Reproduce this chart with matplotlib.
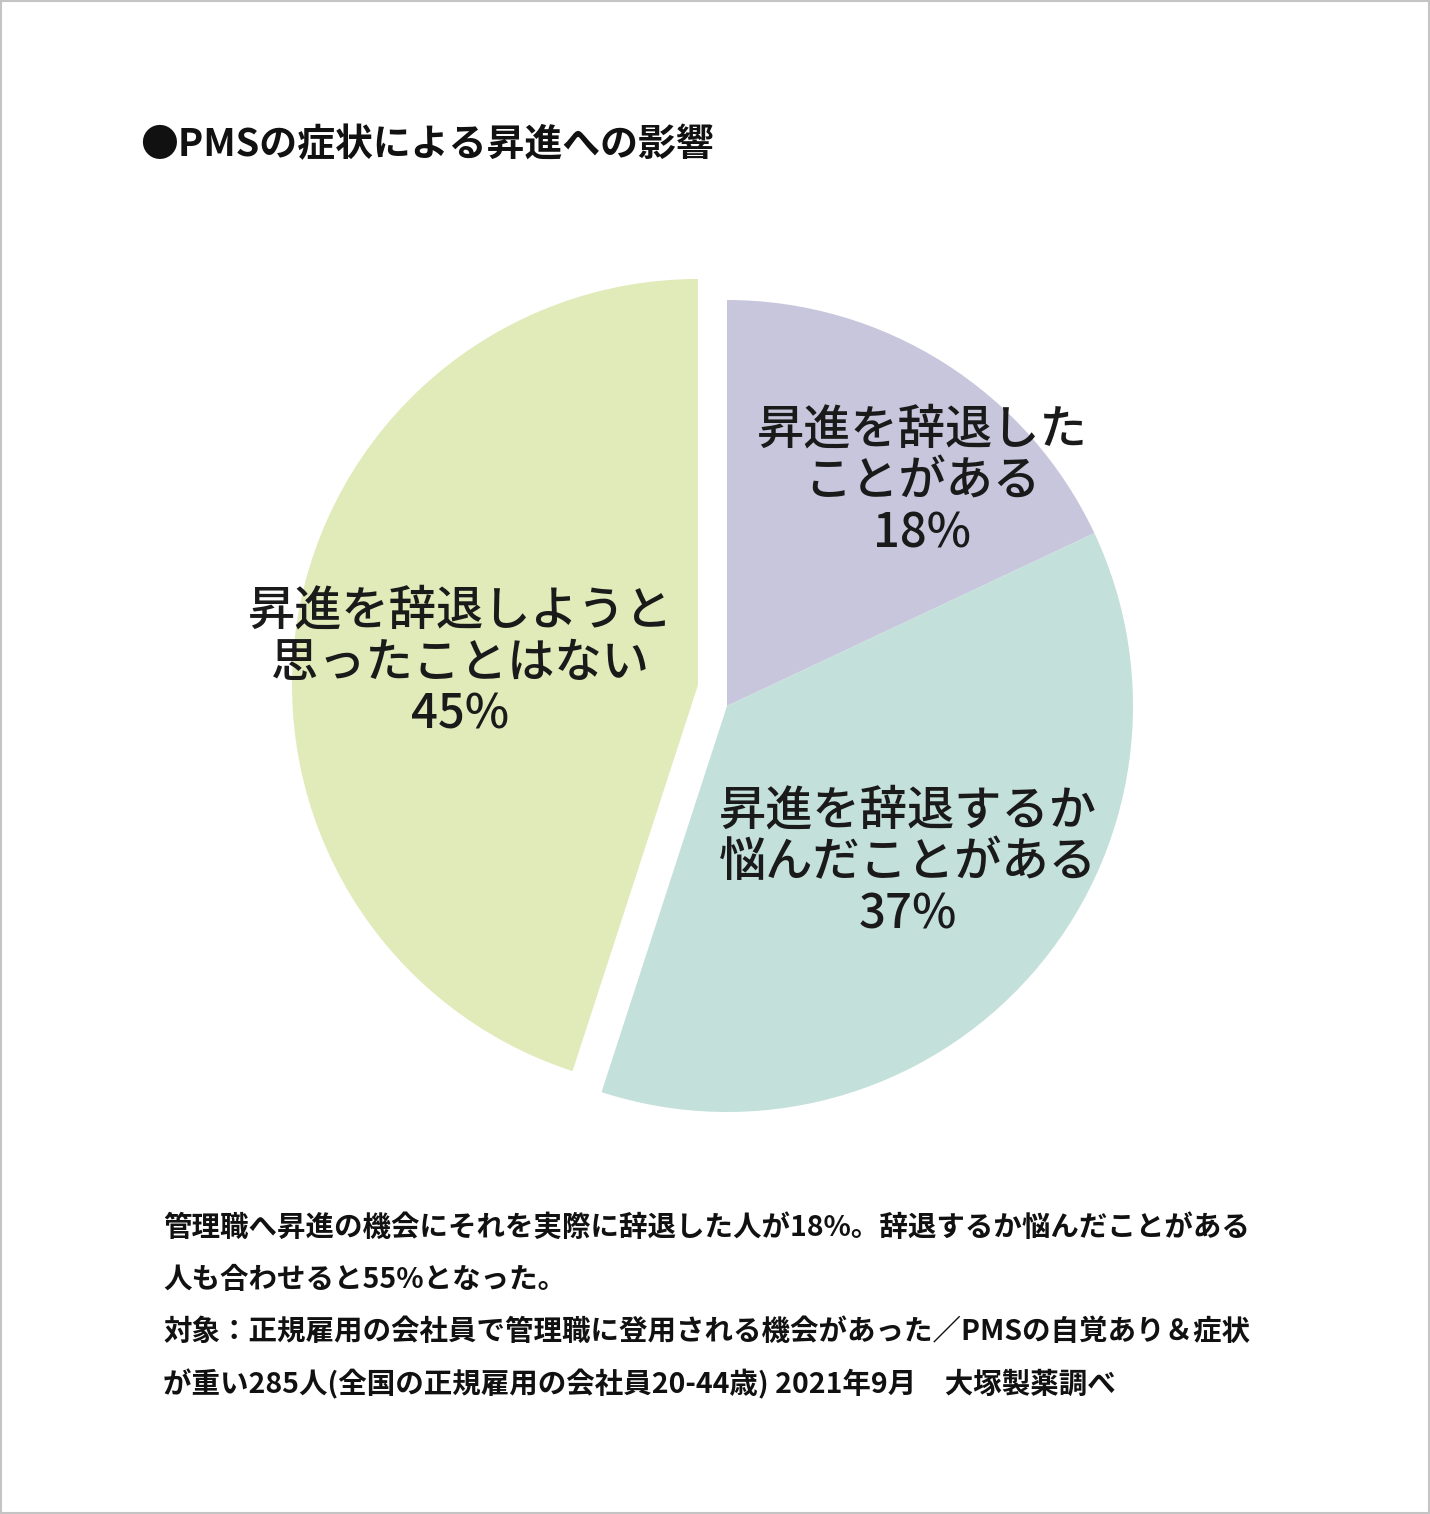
import matplotlib
import matplotlib.pyplot as plt
from matplotlib.patches import Rectangle

matplotlib.use("Agg")

plt.rcParams["font.family"] = ["Noto Sans CJK JP", "DejaVu Sans"]

title = "●PMSの症状による昇進への影響"
labels = ["昇進を辞退した\nことがある", "昇進を辞退するか\n悩んだことがある", "昇進を辞退しようと\n思ったことはない"]
values = [18, 37, 45]
colors = ["#c8c6dc", "#c4e0da", "#e1eab9"]
note_lines = [
    "管理職へ昇進の機会にそれを実際に辞退した人が18%。辞退するか悩んだことがある",
    "人も合わせると55%となった。",
    "対象：正規雇用の会社員で管理職に登用される機会があった／PMSの自覚あり＆症状",
    "が重い285人(全国の正規雇用の会社員20-44歳) 2021年9月　大塚製薬調べ",
]

W, H = 1430, 1514


def main():
    fig = plt.figure(figsize=(W / 100, H / 100), dpi=100)
    ax = fig.add_axes([0, 0, 1, 1])

    cx, cy, r = 727, H - 706, 406
    wedges, _ = ax.pie(
        values,
        colors=colors,
        startangle=90,
        counterclock=False,
        center=(cx, cy),
        radius=r,
        wedgeprops=dict(linewidth=0),
        frame=True,
    )
    # pull the largest slice out (up and left)
    wedges[2].set_center((cx - 29, cy + 21))
    ax.set_xlim(0, W)
    ax.set_ylim(0, H)
    ax.set_aspect("equal")
    ax.axis("off")

    label_pos = [(922, H - 482), (908, H - 863), (460, H - 663)]
    for lab, v, (x, y) in zip(labels, values, label_pos):
        ax.text(x, y, f"{lab}\n{v}%", ha="center", va="center",
                fontsize=34, fontweight="medium", linespacing=1.08,
                color="#1a1a1a")

    fig.text(140 / W, 1 - 145 / H, title, ha="left", va="center",
             fontsize=27.3, fontweight="bold", color="#111111")

    for i, line in enumerate(note_lines):
        y = 1228 + i * 52
        fig.text(163 / W, 1 - y / H, line, ha="left", va="center",
                 fontsize=20.5, fontweight="bold", color="#111111")

    fig.patches.append(Rectangle((0.0007, 0.0007), 0.9986, 0.9986,
                                 transform=fig.transFigure, fill=False,
                                 edgecolor="#c4c4c4", linewidth=1.5))

    fig.savefig("out.png", dpi=100, facecolor="white")
    plt.close(fig)


if __name__ == "__main__":
    main()
